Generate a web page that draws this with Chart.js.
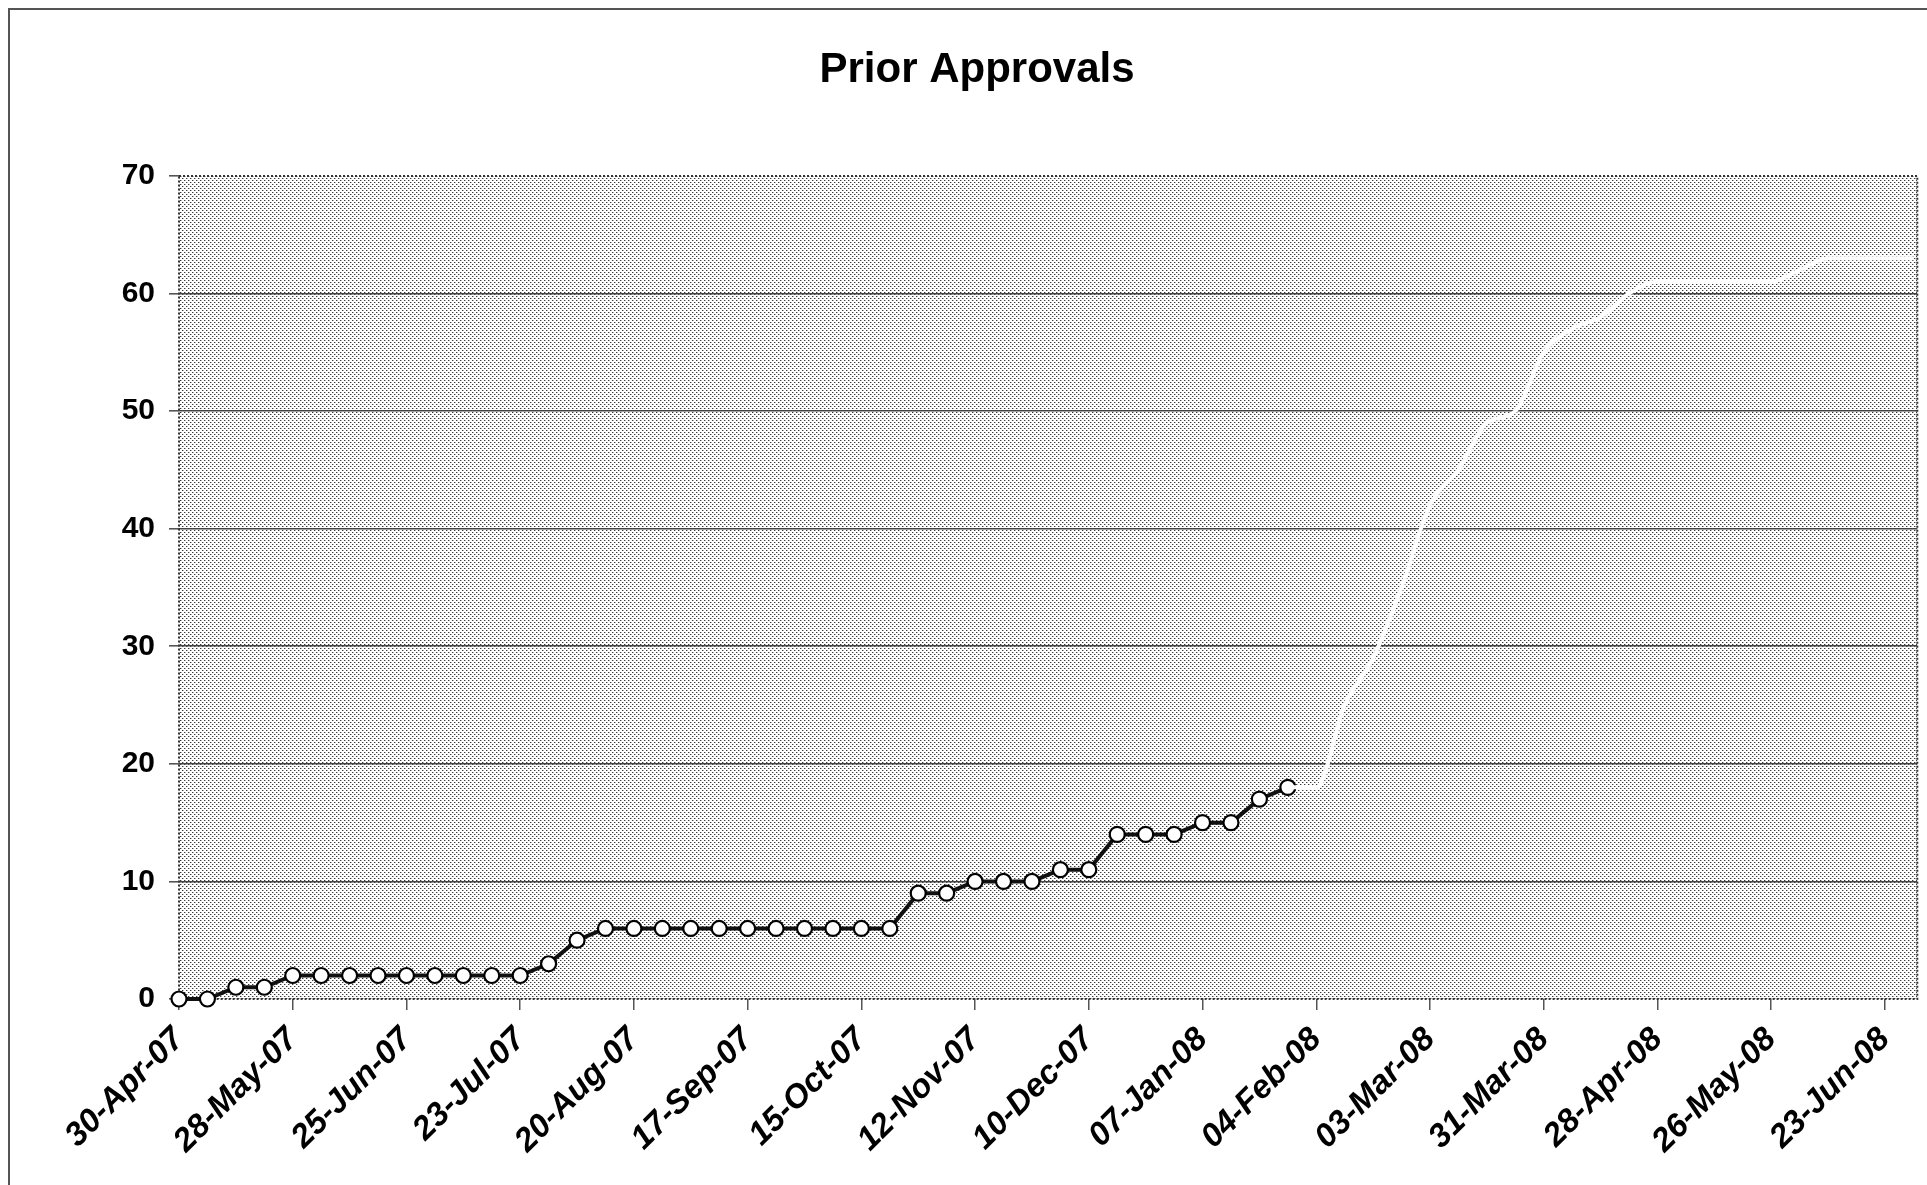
<!DOCTYPE html>
<html>
<head>
<meta charset="utf-8">
<script src="https://cdn.jsdelivr.net/npm/chart.js@4.4.1/dist/chart.umd.min.js"></script>
<style>
  html, body { margin: 0; padding: 0; background: #fff; }
  #wrap { width: 1927px; height: 1185px; position: relative; }
</style>
</head>
<body>
<div id="wrap"><canvas id="approvalsChart"></canvas></div>
<script>
// Weekly counts, first week starting 30-Apr-07
const tickLabels = ['30-Apr-07', '28-May-07', '25-Jun-07', '23-Jul-07', '20-Aug-07', '17-Sep-07',
    '15-Oct-07', '12-Nov-07', '10-Dec-07', '07-Jan-08', '04-Feb-08', '03-Mar-08',
    '31-Mar-08', '28-Apr-08', '26-May-08', '23-Jun-08'];
const actualApprovals = [0, 0, 1, 1, 2, 2, 2, 2, 2, 2, 2, 2, 2, 3, 5, 6, 6, 6, 6, 6,
    6, 6, 6, 6, 6, 6, 9, 9, 10, 10, 10, 11, 11, 14, 14, 14, 15, 15, 17, 18];
const projectedStartWeek = 39;
const projectedApprovals = [18, 18, 25, 29, 35, 42, 45, 49, 50, 55, 57, 58, 60, 61, 61, 61,
    61, 61, 62, 63, 63, 63, 63];
const weeksPerTick = 4;
const axisEndWeek = 61.14; // 01-Jul-08

const FONT = '"Liberation Sans", Arial, sans-serif';

// stipple fill like the old Excel plot area
function makeStipple() {
    const c = document.createElement('canvas');
    c.width = 4; c.height = 4;
    const g = c.getContext('2d');
    g.fillStyle = '#fff';
    g.fillRect(0, 0, 4, 4);
    g.fillStyle = '#3a3a3a';
    g.fillRect(0, 0, 1, 1);
    g.fillRect(2, 2, 1, 1);
    g.fillStyle = '#b4b4b4';
    g.fillRect(1, 0, 1, 1);
    g.fillRect(3, 2, 1, 1);
    return g.createPattern(c, 'repeat');
}

const backdrop = {
    id: 'backdrop',
    beforeDraw(chart) {
        const { ctx, chartArea: a } = chart;
        ctx.save();
        ctx.fillStyle = makeStipple();
        ctx.fillRect(a.left, a.top, a.right - a.left, a.bottom - a.top);
        // outer frame (left and top visible)
        ctx.strokeStyle = '#555';
        ctx.lineWidth = 2;
        ctx.beginPath();
        ctx.moveTo(9, 1185);
        ctx.lineTo(9, 9);
        ctx.lineTo(1927, 9);
        ctx.stroke();
        ctx.restore();
    },
    beforeDatasetsDraw(chart) {
        const { ctx, chartArea: a } = chart;
        ctx.save();
        ctx.strokeStyle = '#333';
        ctx.lineWidth = 2;
        ctx.setLineDash([2, 2]);
        ctx.strokeRect(a.left, a.top, a.right - a.left, a.bottom - a.top);
        ctx.restore();
    },
    afterDraw(chart) {
        const ctx = chart.ctx;
        ctx.save();
        ctx.fillStyle = '#000';
        ctx.font = 'bold 42px ' + FONT;
        ctx.textAlign = 'center';
        ctx.textBaseline = 'middle';
        ctx.fillText('Prior Approvals', 977, 70);
        ctx.restore();
    }
};

const actualPoints = actualApprovals.map((v, i) => ({ x: i, y: v }));
const projectedPoints = projectedApprovals.map((v, i) => ({ x: projectedStartWeek + i, y: v }));

const ctx = document.getElementById('approvalsChart').getContext('2d');
const approvalsChart = new Chart(ctx, {
    type: 'line',
    data: {
        datasets: [{
            label: 'Projected',
            data: projectedPoints,
            borderColor: '#ffffff',
            borderWidth: 4,
            pointRadius: 0,
            cubicInterpolationMode: 'monotone',
            fill: false
        }, {
            label: 'Prior Approvals',
            data: actualPoints,
            borderColor: '#111111',
            borderWidth: 4,
            pointRadius: 7.5,
            pointBorderWidth: 2.2,
            pointBackgroundColor: '#ffffff',
            pointBorderColor: '#000000',
            clip: false,
            fill: false
        }]
    },
    options: {
        responsive: true,
        maintainAspectRatio: false,
        animation: false,
        layout: { padding: { left: 0, top: 176, right: 5, bottom: 0 } },
        plugins: {
            legend: { display: false },
            title: { display: false },
            tooltip: { enabled: false }
        },
        scales: {
            x: {
                type: 'linear',
                min: 0,
                max: axisEndWeek,
                afterBuildTicks: (scale) => {
                    scale.ticks = tickLabels.map((_, i) => ({ value: i * weeksPerTick }));
                },
                afterFit: (scale) => {
                    scale.height = 186;
                    scale.paddingLeft = 0;
                    scale.paddingRight = 0;
                },
                grid: { drawOnChartArea: false, drawTicks: true, tickLength: 11, tickColor: '#555', lineWidth: 1.5 },
                border: { display: false },
                ticks: {
                    autoSkip: false,
                    minRotation: 45,
                    maxRotation: 45,
                    padding: 10,
                    color: '#000',
                    font: { family: FONT, size: 33, weight: 'bold', style: 'italic' },
                    callback: (value) => tickLabels[Math.round(value / weeksPerTick)]
                }
            },
            y: {
                min: 0,
                max: 70,
                afterFit: (scale) => { scale.width = 179; },
                grid: {
                    color: (c) => (c.tick.value === 0 || c.tick.value === 70) ? 'rgba(0,0,0,0)' : '#444',
                    lineWidth: 1.6,
                    tickLength: 10,
                    tickColor: '#555'
                },
                border: { display: false },
                ticks: {
                    stepSize: 10,
                    padding: 14,
                    color: '#000',
                    font: { family: FONT, size: 30, weight: 'bold' }
                }
            }
        }
    },
    plugins: [backdrop]
});
</script>
</body>
</html>
